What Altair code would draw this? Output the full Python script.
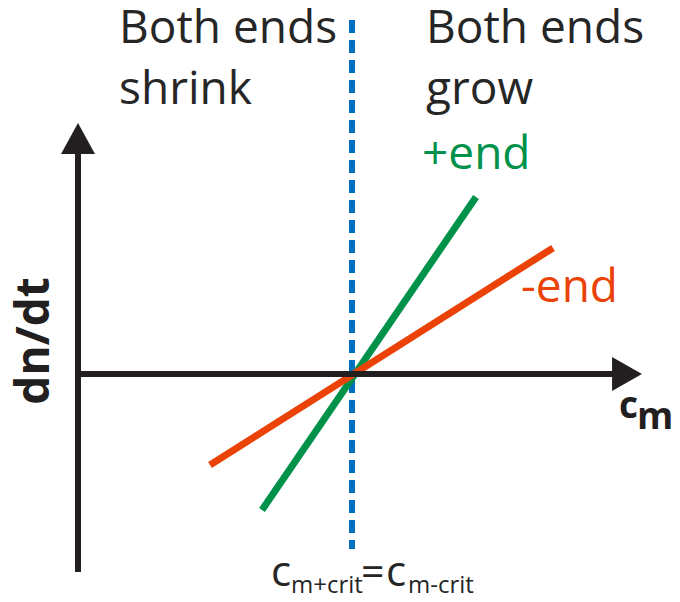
import altair as alt
import pandas as pd

# Schematic coordinates: the two lines cross at (0, 0)
X_DOMAIN = [-3.44, 3.20]
Y_DOMAIN = [-2.20, 3.66]

# growth-rate lines (dn/dt vs c_m)
series = ["+end", "-end"]
series_colors = ["#00924A", "#EB4207"]
plus_x = [-0.90, 1.24]
plus_y = [-1.36, 1.77]
minus_x = [-1.42, 2.01]
minus_y = [-0.91, 1.26]

# axes of the schematic
axis_x0 = -2.74
axis_y_bottom = -1.98
axis_y_top = 2.26
axis_x_right = 2.62
arrow_up_center = [-2.74, 2.355]
arrow_right_center = [2.75, 0.0]

# critical concentration (dashed vertical line)
crit_x = 0.0
crit_y_top = 3.54
crit_y_bottom = -1.75

FONT = "Open Sans"
DARK = "#262626"
AXIS_COLOR = "#231F20"
BLUE = "#0070C0"

xs = alt.Scale(domain=X_DOMAIN, nice=False, zero=False)
ys = alt.Scale(domain=Y_DOMAIN, nice=False, zero=False)
X = lambda f="x": alt.X(f"{f}:Q", scale=xs, axis=None)
Y = lambda f="y": alt.Y(f"{f}:Q", scale=ys, axis=None)

# dashed critical line
crit_df = pd.DataFrame({"x": [crit_x], "y": [crit_y_top], "y2": [crit_y_bottom]})
crit = alt.Chart(crit_df).mark_rule(
    color=BLUE, strokeWidth=6, strokeDash=[13, 7], strokeCap="butt"
).encode(x=X(), y=Y(), y2="y2:Q")

# axes lines
vaxis_df = pd.DataFrame({"x": [axis_x0], "y": [axis_y_bottom], "y2": [axis_y_top]})
vaxis = alt.Chart(vaxis_df).mark_rule(color=AXIS_COLOR, strokeWidth=6, strokeCap="butt").encode(
    x=X(), y=Y(), y2="y2:Q"
)
haxis_df = pd.DataFrame({"x": [axis_x0], "x2": [axis_x_right], "y": [0.0]})
haxis = alt.Chart(haxis_df).mark_rule(color=AXIS_COLOR, strokeWidth=6, strokeCap="butt").encode(
    x=X(), x2="x2:Q", y=Y()
)

up_df = pd.DataFrame({"x": [arrow_up_center[0]], "y": [arrow_up_center[1]]})
up = alt.Chart(up_df).mark_point(
    shape="M0,-0.91L1,0.91L-1,0.91Z", size=1156, filled=True, opacity=1,
    color=AXIS_COLOR, strokeWidth=0
).encode(x=X(), y=Y())
right_df = pd.DataFrame({"x": [arrow_right_center[0]], "y": [arrow_right_center[1]]})
right = alt.Chart(right_df).mark_point(
    shape="M0.88,0L-0.88,-1L-0.88,1Z", size=1156, filled=True, opacity=1,
    color=AXIS_COLOR, strokeWidth=0
).encode(x=X(), y=Y())

# growth lines
lines_df = pd.DataFrame({
    "series": [series[0]] * 2 + [series[1]] * 2,
    "x": plus_x + minus_x,
    "y": plus_y + minus_y,
})
lines = alt.Chart(lines_df).mark_line(strokeWidth=7, strokeCap="butt").encode(
    x=X(), y=Y(),
    color=alt.Color("series:N", scale=alt.Scale(domain=series, range=series_colors), legend=None),
)


def label(text, x, y, size, color=DARK, weight="normal", angle=0, align="left"):
    df = pd.DataFrame({"t": [text], "x": [x], "y": [y]})
    return alt.Chart(df).mark_text(
        font=FONT, fontSize=size, fontWeight=weight, color=color, angle=angle,
        align=align, baseline="alphabetic"
    ).encode(x=X(), y=Y(), text="t:N")


texts = [
    label("Both ends", -2.33, 3.31, 46),
    label("shrink", -2.33, 2.70, 46),
    label("Both ends", 0.74, 3.31, 46),
    label("grow", 0.74, 2.70, 46),
    label("+end", 0.70, 2.05, 46, color=series_colors[0]),
    label("-end", 1.69, 0.72, 46, color=series_colors[1]),
    label("dn/dt", -3.03, 0.33, 46, color=AXIS_COLOR, weight="bold", angle=270, align="center"),
    label("c", 2.67, -0.44, 37, color=AXIS_COLOR, weight="bold"),
    label("m", 2.85, -0.55, 37, color=AXIS_COLOR, weight="bold"),
    label("c", -0.81, -2.12, 42),
    label("m+crit", -0.61, -2.19, 24),
    label("=", 0.09, -2.12, 41),
    label("c", 0.34, -2.12, 42),
    label("m-crit", 0.56, -2.19, 24),
]

chart = alt.layer(crit, lines, vaxis, haxis, up, right, *texts).properties(
    width=664, height=586, padding=0, autosize=alt.AutoSizeParams(type="none")
).configure_view(stroke=None)

chart.save("out.html", embed_options={"renderer": "svg", "actions": False})
